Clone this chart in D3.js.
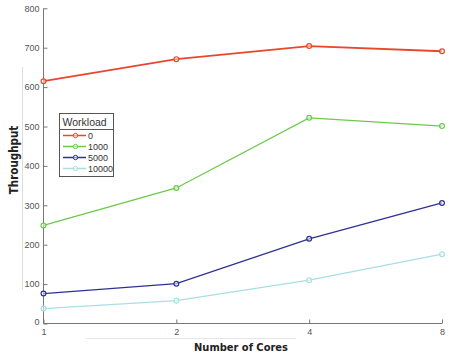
<!DOCTYPE html>
<html><head><meta charset="utf-8">
<script src="https://cdn.jsdelivr.net/npm/d3@7"></script>
<style>body{margin:0;background:#fff}svg{display:block}</style>
</head><body><svg id="c" width="450" height="356"></svg>
<script>
const cores = [1, 2, 4, 8];
const seriesNames = ["0", "1000", "5000", "10000"];
const w0 = [615, 671, 704, 691];
const w1000 = [249, 344, 522, 501];
const w5000 = [76, 101, 215, 306];
const w10000 = [38, 58, 110, 176];
const yTicks = [0, 100, 200, 300, 400, 500, 600, 700, 800];
const colors = ["#e8472c", "#6cc94a", "#2e3192", "#a8dfe2"];
const series = [w0, w1000, w5000, w10000];

const svg = d3.select("#c");
const x = d3.scaleLog().base(2).domain([1, 8]).range([43.5, 442]);
const y = d3.scaleLinear().domain([0, 800]).range([323.5, 8.3]);

// faint artifact lines
svg.append("line").attr("x1", 22.5).attr("x2", 22.5).attr("y1", 67).attr("y2", 290).attr("stroke", "#ddd");
svg.append("line").attr("x1", 86).attr("x2", 296).attr("y1", 338.5).attr("y2", 338.5).attr("stroke", "#e6e6e6");

const yAxis = svg.append("g").attr("transform", "translate(43.5,0)")
  .call(d3.axisRight(y).tickValues(yTicks).tickSize(4).tickFormat(d3.format("d")));
yAxis.select(".domain").attr("stroke", "#777").attr("d", "M0,8.3V323.5");
yAxis.selectAll(".tick line").attr("stroke", "#777");
yAxis.selectAll(".tick text").attr("x", -4).attr("text-anchor", "end").attr("fill", "#555")
  .style("font", "9px 'Liberation Sans Narrow', 'Liberation Sans', sans-serif");

const xAxis = svg.append("g").attr("transform", "translate(0,323.5)")
  .call(d3.axisTop(x).tickValues(cores).tickSize(4).tickFormat(d3.format("d")));
xAxis.select(".domain").attr("stroke", "#777").attr("d", "M43.5,0H442");
xAxis.selectAll(".tick line").attr("stroke", "#777");
xAxis.selectAll(".tick text").attr("y", 11).attr("dy", 0).attr("fill", "#555")
  .style("font", "9px 'Liberation Sans Narrow', 'Liberation Sans', sans-serif");
yAxis.selectAll(".tick").filter(d => d === 0).select("text").attr("dy", "0.1em");

const line = d3.line().x((d, i) => x(cores[i])).y(d => y(d));
series.forEach((s, k) => {
  svg.append("path").datum(s).attr("d", line).attr("fill", "none")
    .attr("stroke", colors[k]).attr("stroke-width", k === 0 ? 1.8 : 1.3);
  svg.selectAll(null).data(s).enter().append("circle")
    .attr("cx", (d, i) => x(cores[i])).attr("cy", d => y(d)).attr("r", 2.4)
    .attr("fill", "#fff").attr("fill-opacity", 0.5).attr("stroke", colors[k]).attr("stroke-width", 1.2);
});

// legend
const lg = svg.append("g").attr("transform", "translate(59,113)");
lg.append("rect").attr("x", 0.5).attr("y", 0.5).attr("width", 54).attr("height", 63)
  .attr("fill", "#fff").attr("stroke", "#555");
lg.append("line").attr("x1", 0.5).attr("x2", 54.5).attr("y1", 16.5).attr("y2", 16.5).attr("stroke", "#555");
lg.append("text").attr("x", 3.5).attr("y", 12.5).text("Workload").attr("fill", "#333")
  .style("font", "10.5px 'Liberation Sans', sans-serif");
seriesNames.forEach((n, k) => {
  const yy = 22.5 + k * 11;
  lg.append("line").attr("x1", 4).attr("x2", 27).attr("y1", yy).attr("y2", yy)
    .attr("stroke", colors[k]).attr("stroke-width", 1.5);
  lg.append("circle").attr("cx", 16.5).attr("cy", yy).attr("r", 2.2)
    .attr("fill", "#fff").attr("fill-opacity", 0.5).attr("stroke", colors[k]);
  lg.append("text").attr("x", 29).attr("y", yy + 3).text(n).attr("fill", "#333")
    .style("font", "9px 'Liberation Sans Narrow', 'Liberation Sans', sans-serif");
});

svg.append("text").attr("transform", "translate(18,160) rotate(-90)").attr("text-anchor", "middle")
  .text("Throughput").attr("fill", "#222")
  .style("font", "bold 11.5px 'Liberation Sans Narrow', 'DejaVu Sans Condensed', sans-serif");
svg.append("text").attr("x", 241).attr("y", 351).attr("text-anchor", "middle")
  .text("Number of Cores").attr("fill", "#222")
  .style("font", "bold 11px 'Liberation Sans Narrow', 'DejaVu Sans Condensed', sans-serif");
</script></body></html>
